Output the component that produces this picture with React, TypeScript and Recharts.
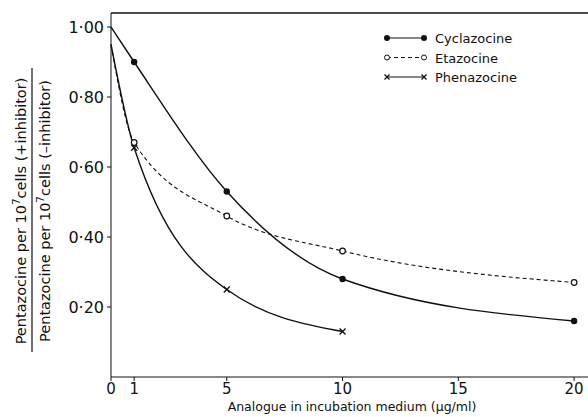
import React from 'react';
import { LineChart, Line, XAxis, YAxis, ReferenceLine } from 'recharts';

document.body.style.margin = '0';

const doses = [0, 1, 5, 10, 20];
const cyclazocine = [1.0, 0.9, 0.53, 0.28, 0.16];
const etazocine = [0.95, 0.67, 0.46, 0.36, 0.27];
const phenazocine = [0.95, 0.655, 0.25, 0.13, null];
const xTicks = [0, 1, 5, 10, 15, 20];
const yTicks = [0.2, 0.4, 0.6, 0.8, 1.0];

const data = doses.map((d, i) => ({
  dose: d,
  cyclazocine: cyclazocine[i],
  etazocine: etazocine[i],
  phenazocine: phenazocine[i],
}));

const FONT = '"DejaVu Sans", "Liberation Sans", sans-serif';
const INK = '#111';

const fmtY = (v: number) => v.toFixed(2).replace('.', '·');

const FilledDot = (p: any) =>
  p.payload.dose === 0 ? <g key={p.index} /> : <circle key={p.index} cx={p.cx} cy={p.cy} r={3.2} fill={INK} />;
const OpenDot = (p: any) =>
  p.payload.dose === 0 ? <g key={p.index} /> : <circle key={p.index} cx={p.cx} cy={p.cy} r={2.8} fill="#fff" stroke={INK} strokeWidth={1.2} />;
const CrossDot = (p: any) =>
  p.payload.dose === 0 || p.value == null ? (
    <g key={p.index} />
  ) : (
    <g key={p.index} stroke={INK} strokeWidth={1.3}>
      <line x1={p.cx - 3} y1={p.cy - 3} x2={p.cx + 3} y2={p.cy + 3} />
      <line x1={p.cx - 3} y1={p.cy + 3} x2={p.cx + 3} y2={p.cy - 3} />
    </g>
  );

const YLabel = () => {
  const cy = 211;
  return (
    <g fill={INK} fontFamily={FONT} fontSize={14.5}>
      <text transform={`translate(26, ${cy}) rotate(-90)`} textAnchor="middle">
        <tspan>Pentazocine per 10</tspan>
        <tspan dy={-6} fontSize={10.5}>7</tspan>
        <tspan dy={6}>cells (+inhibitor)</tspan>
      </text>
      <line x1={32} y1={68} x2={32} y2={352} stroke={INK} strokeWidth={1.2} />
      <text transform={`translate(50, ${cy}) rotate(-90)`} textAnchor="middle">
        <tspan>Pentazocine per 10</tspan>
        <tspan dy={-6} fontSize={10.5}>7</tspan>
        <tspan dy={6}>cells (–inhibitor)</tspan>
      </text>
    </g>
  );
};

const XLabel = () => (
  <text x={352} y={411} textAnchor="middle" fill={INK} fontFamily={FONT} fontSize={12.5}>
    Analogue  in incubation medium (μg/ml)
  </text>
);

const legendRows = [
  { name: 'Cyclazocine', kind: 'filled' },
  { name: 'Etazocine', kind: 'open' },
  { name: 'Phenazocine', kind: 'cross' },
];

const LegendBox = () => (
  <svg width={200} height={70} style={{ position: 'absolute', left: 380, top: 28 }}>
    {legendRows.map((r, i) => {
      const y = 10 + i * 19.5;
      return (
        <g key={r.name}>
          <line x1={7} y1={y} x2={44} y2={y} stroke={INK} strokeWidth={1.2} strokeDasharray={r.kind === 'open' ? '4 3' : undefined} />
          {r.kind === 'filled' && (
            <>
              <circle cx={7} cy={y} r={3} fill={INK} />
              <circle cx={44} cy={y} r={3} fill={INK} />
            </>
          )}
          {r.kind === 'open' && (
            <>
              <circle cx={7} cy={y} r={2.5} fill="#fff" stroke={INK} />
              <circle cx={44} cy={y} r={2.5} fill="#fff" stroke={INK} />
            </>
          )}
          {r.kind === 'cross' &&
            [7, 44].map((cx) => (
              <g key={cx} stroke={INK} strokeWidth={1.2}>
                <line x1={cx - 2.5} y1={y - 2.5} x2={cx + 2.5} y2={y + 2.5} />
                <line x1={cx - 2.5} y1={y + 2.5} x2={cx + 2.5} y2={y - 2.5} />
              </g>
            ))}
          <text x={55} y={y + 5} fill={INK} fontFamily={FONT} fontSize={13}>
            {r.name}
          </text>
        </g>
      );
    })}
  </svg>
);

export default function App() {
  return (
    <div style={{ position: 'relative', width: 588, height: 417, background: '#fff' }}>
      <LineChart width={588} height={417} data={data} margin={{ top: 13, right: 0, bottom: 0, left: 0 }}>
        <XAxis
          dataKey="dose"
          type="number"
          domain={[0, 20.6]}
          ticks={xTicks}
          height={40}
          tickSize={4}
          tickMargin={2}
          stroke={INK}
          tick={{ fill: INK, fontFamily: FONT, fontSize: 15 }}
          label={{ content: <XLabel /> }}
        />
        <YAxis
          type="number"
          domain={[0, 1.04]}
          ticks={yTicks}
          width={111}
          tickSize={4}
          tickMargin={3}
          tickFormatter={fmtY}
          stroke={INK}
          tick={{ fill: INK, fontFamily: FONT, fontSize: 16 }}
          label={{ content: <YLabel /> }}
        />
        <ReferenceLine y={1.04} stroke={INK} strokeWidth={1.3} ifOverflow="visible" />
        <Line type="monotone" dataKey="cyclazocine" stroke={INK} strokeWidth={1.4} dot={FilledDot} isAnimationActive={false} />
        <Line type="monotone" dataKey="etazocine" stroke={INK} strokeWidth={1.1} strokeDasharray="4 3" dot={OpenDot} isAnimationActive={false} />
        <Line type="monotone" dataKey="phenazocine" stroke={INK} strokeWidth={1.4} dot={CrossDot} isAnimationActive={false} />
      </LineChart>
      <LegendBox />
    </div>
  );
}
